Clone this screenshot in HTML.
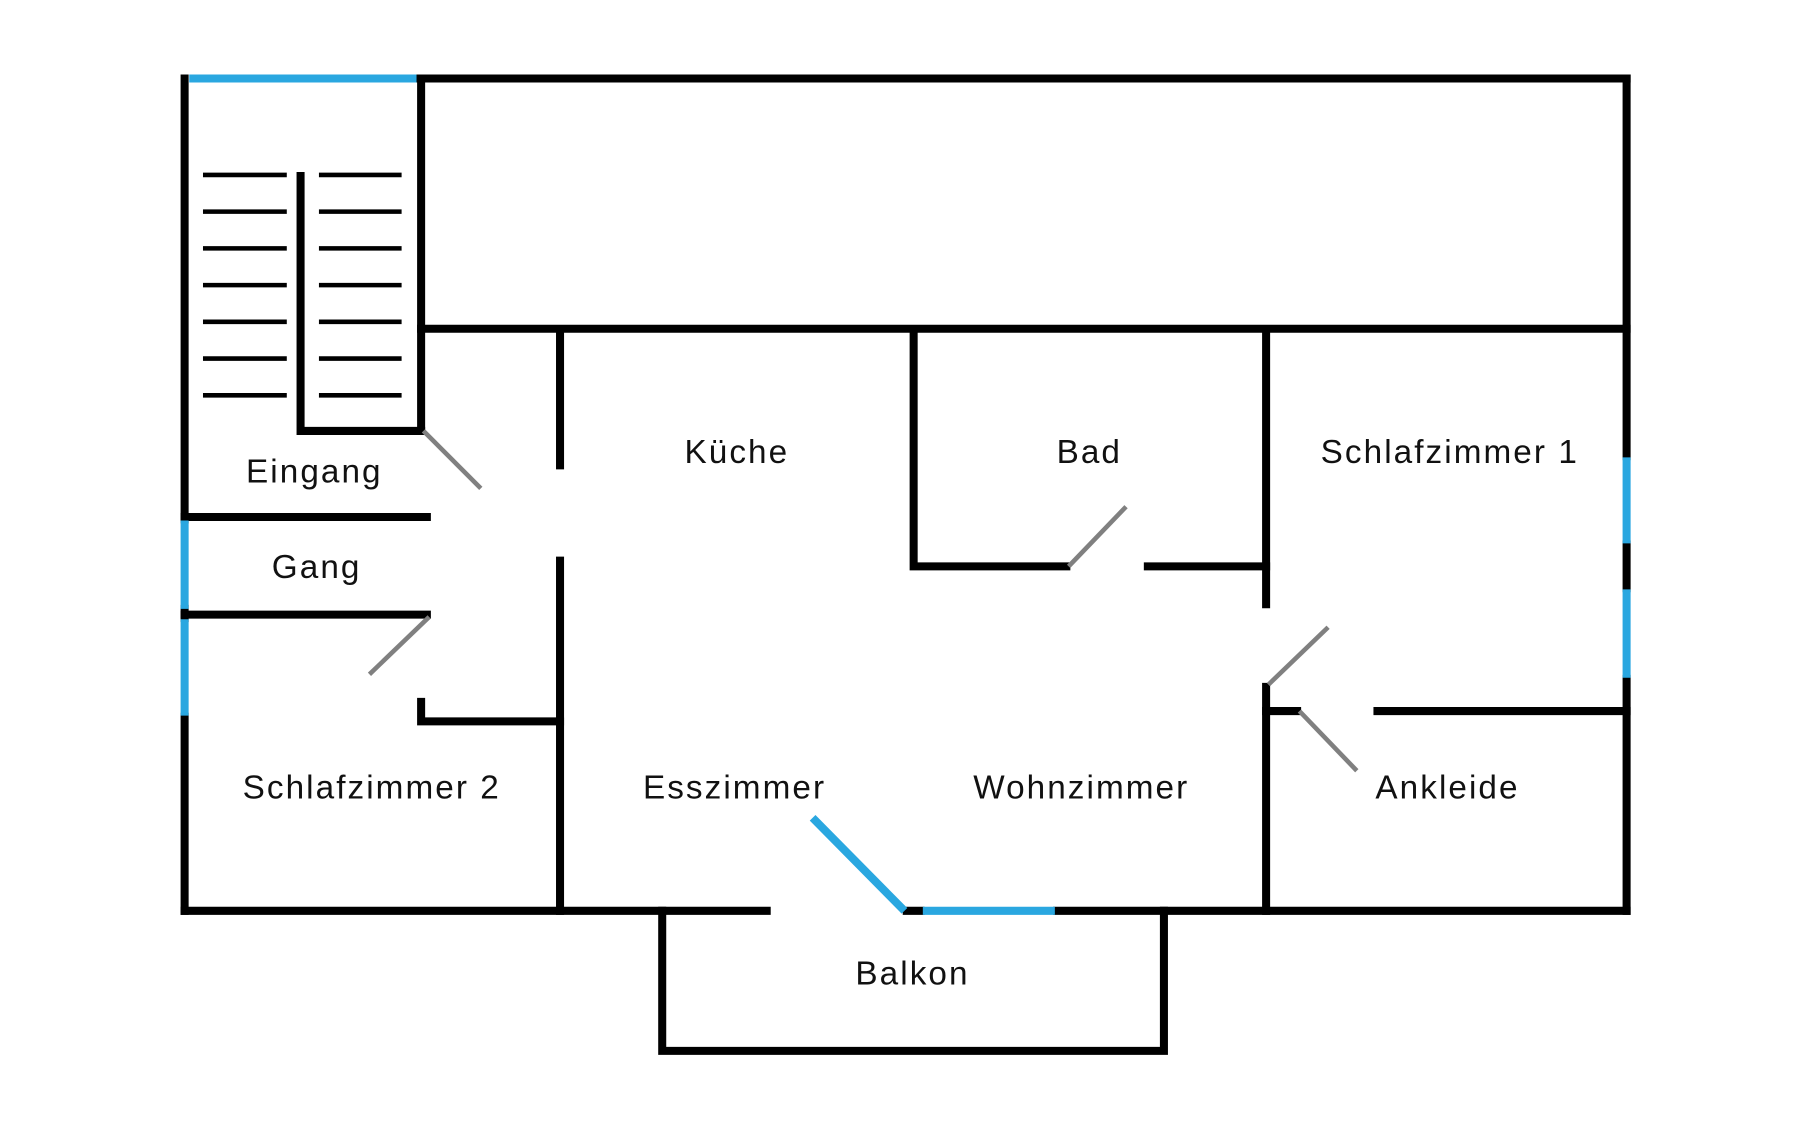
<!DOCTYPE html>
<html><head><meta charset="utf-8"><style>
html,body{margin:0;padding:0;background:#fff;}
svg{display:block}
text{font-family:"Liberation Sans",sans-serif;font-size:29px;fill:#111;text-anchor:middle;letter-spacing:1.8px;}
</style></head><body>
<svg width="1800" height="1140" viewBox="0 0 1560 988" xmlns="http://www.w3.org/2000/svg">
<g transform="translate(160,68) scale(0.995) translate(-160,-68)">
<g stroke="#000" stroke-width="7" stroke-linecap="square" fill="none">
<line x1="160" y1="68" x2="160" y2="452"/>
<line x1="160" y1="530" x2="160" y2="538"/>
<line x1="160" y1="624" x2="160" y2="793"/>
<line x1="364" y1="68" x2="1416" y2="68"/>
<line x1="1416" y1="68" x2="1416" y2="397"/>
<line x1="1416" y1="474" x2="1416" y2="512"/>
<line x1="1416" y1="591" x2="1416" y2="793"/>
<line x1="160" y1="793" x2="667" y2="793"/>
<line x1="789" y1="793" x2="801" y2="793"/>
<line x1="920" y1="793" x2="1416" y2="793"/>
<polyline points="576,793 576,915 1013,915 1013,793"/>
<line x1="366" y1="68" x2="366" y2="375"/>
<polyline points="261,153 261,375 366,375"/>
<line x1="366" y1="286" x2="1416" y2="286"/>
<line x1="160" y1="450" x2="371" y2="450"/>
<line x1="160" y1="535" x2="371" y2="535"/>
<polyline points="366,611 366,628 487,628"/>
<line x1="487" y1="289" x2="487" y2="405"/>
<line x1="487" y1="488" x2="487" y2="793"/>
<polyline points="795,289 795,493 928,493"/>
<line x1="999" y1="493" x2="1102" y2="493"/>
<line x1="1102" y1="292" x2="1102" y2="526"/>
<line x1="1102" y1="598" x2="1102" y2="793"/>
<line x1="1102" y1="619" x2="1129" y2="619"/>
<line x1="1199" y1="619" x2="1416" y2="619"/>
</g>
<g stroke="#000" stroke-width="4" stroke-linecap="butt">
<line x1="176" y1="152" x2="249" y2="152"/><line x1="277" y1="152" x2="349" y2="152"/>
<line x1="176" y1="184" x2="249" y2="184"/><line x1="277" y1="184" x2="349" y2="184"/>
<line x1="176" y1="216" x2="249" y2="216"/><line x1="277" y1="216" x2="349" y2="216"/>
<line x1="176" y1="248" x2="249" y2="248"/><line x1="277" y1="248" x2="349" y2="248"/>
<line x1="176" y1="280" x2="249" y2="280"/><line x1="277" y1="280" x2="349" y2="280"/>
<line x1="176" y1="312" x2="249" y2="312"/><line x1="277" y1="312" x2="349" y2="312"/>
<line x1="176" y1="344" x2="249" y2="344"/><line x1="277" y1="344" x2="349" y2="344"/>
</g>
<g stroke="#2aa7e0" stroke-width="7" stroke-linecap="butt">
<line x1="164" y1="68" x2="362" y2="68"/>
<line x1="160" y1="453" x2="160" y2="530"/>
<line x1="160" y1="539" x2="160" y2="623"/>
<line x1="1416" y1="398" x2="1416" y2="473"/>
<line x1="1416" y1="513" x2="1416" y2="590"/>
<line x1="803" y1="793" x2="918" y2="793"/>
<line x1="707" y1="712" x2="787" y2="793"/>
</g>
<g stroke="#808080" stroke-width="4" stroke-linecap="butt">
<line x1="368" y1="375" x2="418" y2="425"/>
<line x1="373" y1="537" x2="321" y2="587"/>
<line x1="930" y1="493" x2="980" y2="441"/>
<line x1="1104" y1="596" x2="1156" y2="546"/>
<line x1="1131" y1="619" x2="1181" y2="671"/>
</g>
<text x="273" y="420">Eingang</text>
<text x="641" y="403">Küche</text>
<text x="948" y="403">Bad</text>
<text x="1262" y="403">Schlafzimmer 1</text>
<text x="275" y="503">Gang</text>
<text x="323" y="695">Schlafzimmer 2</text>
<text x="639" y="695">Esszimmer</text>
<text x="941" y="695">Wohnzimmer</text>
<text x="1260" y="695">Ankleide</text>
<text x="794" y="857">Balkon</text>
</g>
</svg>
</body></html>
